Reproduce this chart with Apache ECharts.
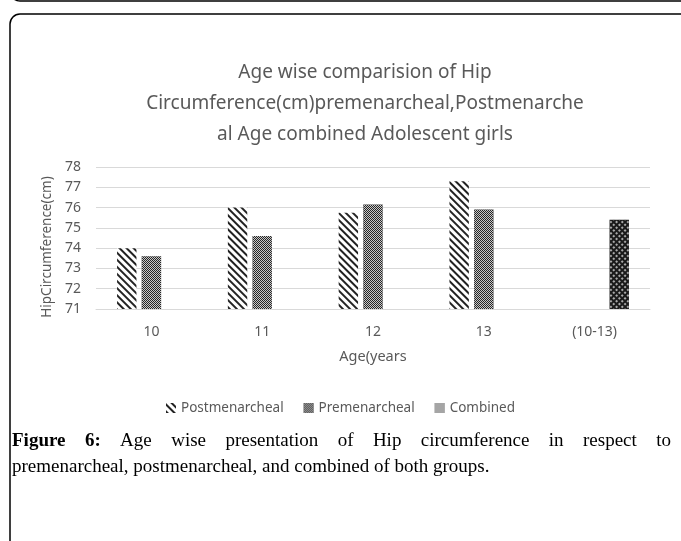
<!DOCTYPE html>
<html>
<head>
<meta charset="utf-8">
<script src="https://cdn.jsdelivr.net/npm/echarts@6/dist/echarts.min.js"></script>
<style>
html,body{margin:0;padding:0;background:#fff;}
#chart{width:681px;height:541px;}
</style>
</head>
<body>
<div id="chart"></div>
<script>
var categories = ['10', '11', '12', '13', '(10-13)'];
var postmenarcheal = [74.0, 76.0, 75.75, 77.3, null];
var premenarcheal = [73.6, 74.6, 76.15, 75.9, null];
var combined = [null, null, null, null, 75.4];
var yMin = 71, yMax = 78, yStep = 1;

var titleText = 'Age wise comparision of Hip\nCircumference(cm)premenarcheal,Postmenarche\nal Age combined Adolescent girls';
var captionBold = 'Figure 6:';
var captionLine1 = 'Age wise presentation of Hip circumference in respect to';
var captionLine2 = 'premenarcheal, postmenarcheal, and combined of both groups.';

var txt = '#595959';
var font = 'Noto Sans';
var capFont = 'Liberation Serif';
var capSize = 19;

var mc = document.createElement('canvas').getContext('2d');
function textW(s, size, bold) {
  mc.font = (bold ? 'bold ' : '') + size + 'px "' + capFont + '"';
  return mc.measureText(s).width;
}
function buildJustified(boldText, normalText, totalWidth) {
  var words = [];
  boldText.split(' ').forEach(function (w) { words.push({w: w, b: true}); });
  normalText.split(' ').forEach(function (w) { words.push({w: w, b: false}); });
  var sum = 0;
  words.forEach(function (o) { sum += textW(o.w, capSize, o.b); });
  var gap = (totalWidth - sum) / (words.length - 1);
  var parts = words.map(function (o) { return '{' + (o.b ? 'b' : 'n') + '|' + o.w + '}'; });
  return {text: parts.join('{sp| }'), gap: gap};
}
var just = buildJustified(captionBold, captionLine1, 659);

var chart = echarts.init(document.getElementById('chart'), null, {renderer: 'canvas'});
chart.setOption({
  backgroundColor: '#fff',
  animation: false,
  title: {
    text: titleText,
    left: 360,
    top: 52,
    textAlign: 'center',
    textStyle: {color: txt, fontFamily: font, fontSize: 19, fontWeight: 'normal', lineHeight: 31}
  },
  grid: {left: 96, right: 31, top: 167, bottom: 232},
  legend: {
    top: 396,
    left: 'center',
    itemWidth: 10,
    itemHeight: 10,
    itemGap: 20,
    icon: 'rect',
    textStyle: {color: txt, fontFamily: font, fontSize: 13.5},
    data: [
      {name: 'Postmenarcheal'},
      {name: 'Premenarcheal'},
      {name: 'Combined', itemStyle: {color: '#a5a5a5', decal: {color: '#a5a5a5', symbol: 'rect', dashArrayX: [1, 0], dashArrayY: [1, 0]}}}
    ]
  },
  xAxis: {
    type: 'category',
    data: categories,
    name: 'Age(years',
    nameLocation: 'middle',
    nameGap: 40,
    nameTextStyle: {color: txt, fontFamily: font, fontSize: 14.5},
    axisLine: {lineStyle: {color: '#d9d9d9', width: 1}},
    axisTick: {show: false},
    axisLabel: {color: txt, fontFamily: font, fontSize: 14, margin: 16}
  },
  yAxis: {
    type: 'value',
    min: yMin,
    max: yMax,
    interval: yStep,
    name: 'HipCircumference(cm)',
    nameLocation: 'middle',
    nameGap: 40,
    nameTextStyle: {color: txt, fontFamily: font, fontSize: 13.5, padding: [0, 18, 0, 0]},
    axisLine: {show: false},
    axisTick: {show: false},
    axisLabel: {color: txt, fontFamily: font, fontSize: 14, margin: 15},
    splitLine: {lineStyle: {color: '#d9d9d9', width: 1}}
  },
  series: [
    {
      name: 'Postmenarcheal',
      type: 'bar',
      data: postmenarcheal,
      barGap: '27%',
      barCategoryGap: '38%',
      itemStyle: {
        color: '#ffffff',
        decal: {color: '#222222', symbol: 'rect', symbolSize: 1, dashArrayX: [1, 0], dashArrayY: [1.3, 2.2], rotation: Math.PI / 4}
      }
    },
    {
      name: 'Premenarcheal',
      type: 'bar',
      data: premenarcheal,
      itemStyle: {
        color: '#262626',
        decal: {color: '#c8c8c8', symbol: 'rect', symbolSize: 1, dashArrayX: [[1, 1], [0, 1, 1, 0]], dashArrayY: [1, 0], rotation: 0}
      }
    },
    {
      name: 'Combined',
      type: 'bar',
      data: combined,
      itemStyle: {
        color: '#1a1a1a',
        decal: {color: '#aaaaaa', symbol: 'rect', symbolSize: 1, dashArrayX: [2, 2], dashArrayY: [2, 2], rotation: Math.PI / 4}
      }
    }
  ],
  graphic: [
    {type: 'rect', shape: {x: 10, y: -60, width: 720, height: 61, r: 10}, style: {fill: 'none', stroke: '#000', lineWidth: 1.5}, silent: true},
    {type: 'rect', shape: {x: 10, y: 14, width: 720, height: 600, r: 10}, style: {fill: 'none', stroke: '#000', lineWidth: 1.5}, silent: true},
    {
      type: 'text', left: 12, top: 432, silent: true,
      style: {
        text: just.text,
        fill: '#000', fontFamily: capFont, fontSize: capSize,
        rich: {
          b: {fontWeight: 'bold', fontFamily: capFont, fontSize: capSize, fill: '#000'},
          n: {fontFamily: capFont, fontSize: capSize, fill: '#000'},
          sp: {width: just.gap, fontFamily: capFont, fontSize: capSize}
        }
      }
    },
    {
      type: 'text', left: 12, top: 458, silent: true,
      style: {text: captionLine2, fill: '#000', fontFamily: capFont, fontSize: capSize}
    }
  ]
});
</script>
</body>
</html>
